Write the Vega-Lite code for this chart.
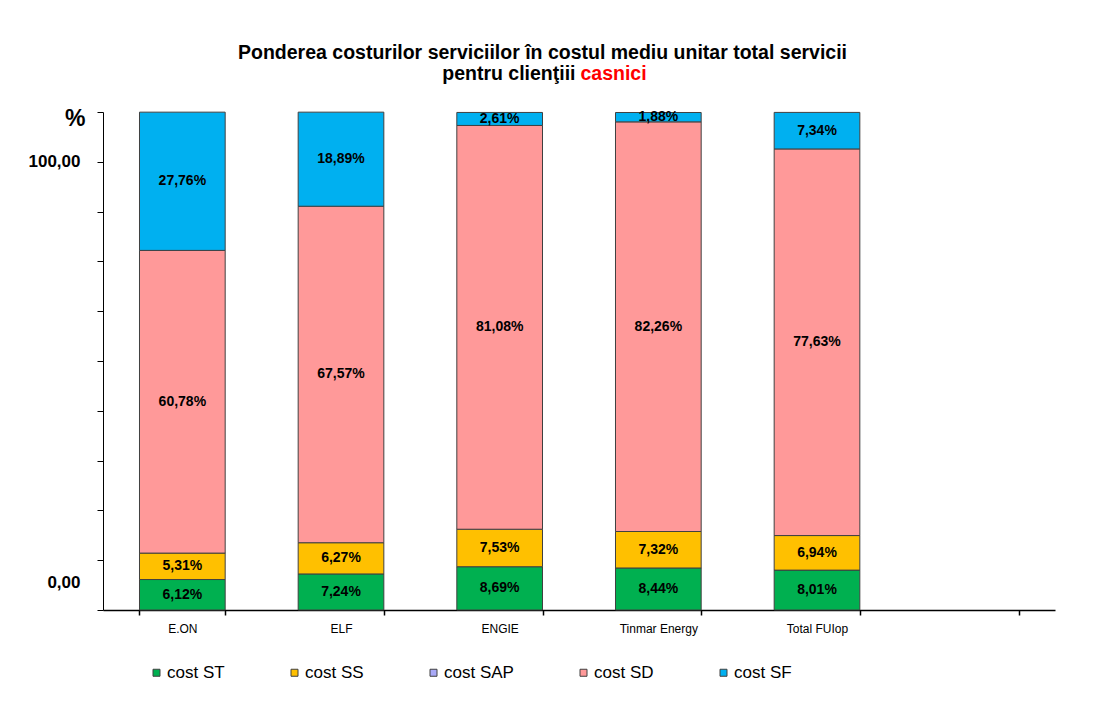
{
  "$schema": "https://vega.github.io/schema/vega-lite/v6.json",
  "width": 952,
  "height": 498,
  "autosize": {"type": "none"},
  "padding": {"left": 103, "top": 112, "right": 55, "bottom": 112},
  "background": "white",
  "config": {"view": {"stroke": null}, "font": "Liberation Sans"},
  "title": {
    "text": "Ponderea costurilor serviciilor în costul mediu unitar total servicii",
    "font": "Liberation Sans",
    "fontSize": 19.5,
    "fontWeight": "bold",
    "color": "#000000",
    "anchor": "middle",
    "frame": "group",
    "baseline": "alphabetic",
    "dx": -36.5,
    "offset": -15
  },
  "data": {
    "values": [
      {"company": "E.ON", "cost": "cost ST", "order": 1, "value": 6.12},
      {"company": "E.ON", "cost": "cost SS", "order": 2, "value": 5.31},
      {"company": "E.ON", "cost": "cost SD", "order": 4, "value": 60.78},
      {"company": "E.ON", "cost": "cost SF", "order": 5, "value": 27.76},
      {"company": "ELF", "cost": "cost ST", "order": 1, "value": 7.24},
      {"company": "ELF", "cost": "cost SS", "order": 2, "value": 6.27},
      {"company": "ELF", "cost": "cost SD", "order": 4, "value": 67.57},
      {"company": "ELF", "cost": "cost SF", "order": 5, "value": 18.89},
      {"company": "ENGIE", "cost": "cost ST", "order": 1, "value": 8.69},
      {"company": "ENGIE", "cost": "cost SS", "order": 2, "value": 7.53},
      {"company": "ENGIE", "cost": "cost SD", "order": 4, "value": 81.08},
      {"company": "ENGIE", "cost": "cost SF", "order": 5, "value": 2.61},
      {"company": "Tinmar Energy", "cost": "cost ST", "order": 1, "value": 8.44},
      {"company": "Tinmar Energy", "cost": "cost SS", "order": 2, "value": 7.32},
      {"company": "Tinmar Energy", "cost": "cost SD", "order": 4, "value": 82.26},
      {"company": "Tinmar Energy", "cost": "cost SF", "order": 5, "value": 1.88},
      {"company": "Total FUIop", "cost": "cost ST", "order": 1, "value": 8.01},
      {"company": "Total FUIop", "cost": "cost SS", "order": 2, "value": 6.94},
      {"company": "Total FUIop", "cost": "cost SD", "order": 4, "value": 77.63},
      {"company": "Total FUIop", "cost": "cost SF", "order": 5, "value": 7.34}
    ]
  },
  "transform": [
    {"stack": "value", "groupby": ["company"], "sort": [{"field": "order", "order": "ascending"}], "as": ["y0", "y1"]},
    {"calculate": "(datum.y0 + datum.y1) / 2", "as": "ymid"},
    {"calculate": "replace(format(datum.value, '.2f'), '.', ',') + '%'", "as": "label"}
  ],
  "resolve": {"axis": {"x": "independent"}},
  "layer": [
    {
      "mark": {"type": "bar", "stroke": "#404040", "strokeWidth": 1},
      "encoding": {
        "x": {
          "field": "company",
          "type": "nominal",
          "scale": {"domain": ["E.ON", "ELF", "ENGIE", "Tinmar Energy", "Total FUIop", " "], "paddingInner": 0.46, "paddingOuter": 0.23},
          "axis": {
            "title": "casnici",
            "titleColor": "#FF0000",
            "titleFont": "Liberation Sans",
            "titleFontSize": 19.5,
            "titleFontWeight": "bold",
            "titleAlign": "left",
            "titleBaseline": "alphabetic",
            "titleAnchor": "start",
            "titleAngle": 0,
            "titleX": 477,
            "titleY": -531,
            "labelAngle": 0,
            "labelFont": "Liberation Sans",
            "labelFontSize": 12,
            "labelColor": "#000000",
            "labelPadding": 8,
            "tickBand": "extent",
            "tickSize": 5,
            "tickColor": "#000000",
            "tickWidth": 1.5,
            "domainColor": "#000000",
            "domainWidth": 1.5
          }
        },
        "y": {
          "field": "y0",
          "type": "quantitative",
          "scale": {"domain": [0, 100], "nice": false},
          "axis": {
            "title": "%",
            "titleAngle": 0,
            "titleFont": "Liberation Sans",
            "titleFontSize": 23,
            "titleFontWeight": "bold",
            "titleColor": "#000000",
            "titleAlign": "right",
            "titleBaseline": "middle",
            "titleX": -18,
            "titleY": 6,
            "values": [0, 10, 20, 30, 40, 50, 60, 70, 80, 90, 100],
            "labelExpr": "datum.value == 100 ? '100,00' : (datum.value == 0 ? '0,00' : '')",
            "labelOffset": {"condition": {"test": "datum.value == 100", "value": 49}, "value": -28},
            "labelFont": "Liberation Sans",
            "labelFontSize": 17,
            "labelFontWeight": "bold",
            "labelColor": "#000000",
            "labelPadding": 17,
            "tickSize": 6,
            "tickColor": "#000000",
            "domainColor": "#000000",
            "grid": false
          }
        },
        "y2": {"field": "y1"},
        "color": {
          "field": "cost",
          "type": "nominal",
          "scale": {
            "domain": ["cost ST", "cost SS", "cost SAP", "cost SD", "cost SF"],
            "range": ["#00B050", "#FFC000", "#A9A9F7", "#FF9999", "#00B0F0"]
          },
          "legend": {
            "title": null,
            "orient": "none",
            "direction": "horizontal",
            "columns": 5,
            "legendX": 45,
            "legendY": 552,
            "symbolType": "square",
            "symbolSize": 49,
            "symbolStrokeColor": "#404040",
            "symbolStrokeWidth": 1,
            "symbolOffset": 0,
            "labelFont": "Liberation Sans",
            "labelFontSize": 17,
            "labelColor": "#000000",
            "labelOffset": 2,
            "columnPadding": 61
          }
        }
      }
    },
    {
      "mark": {"type": "text", "font": "Liberation Sans", "fontSize": 14, "fontWeight": "bold", "color": "#000000", "baseline": "middle", "align": "center"},
      "encoding": {
        "x": {
          "field": "company",
          "type": "nominal",
          "axis": {
            "orient": "top",
            "domain": false,
            "ticks": false,
            "labels": false,
            "title": "pentru clienţiii",
            "titleColor": "#000000",
            "titleFont": "Liberation Sans",
            "titleFontSize": 19.5,
            "titleFontWeight": "bold",
            "titleAlign": "right",
            "titleBaseline": "alphabetic",
            "titleAngle": 0,
            "titleX": 472,
            "titleY": -33
          }
        },
        "y": {"field": "ymid", "type": "quantitative"},
        "text": {"field": "label", "type": "nominal"}
      }
    }
  ]
}
